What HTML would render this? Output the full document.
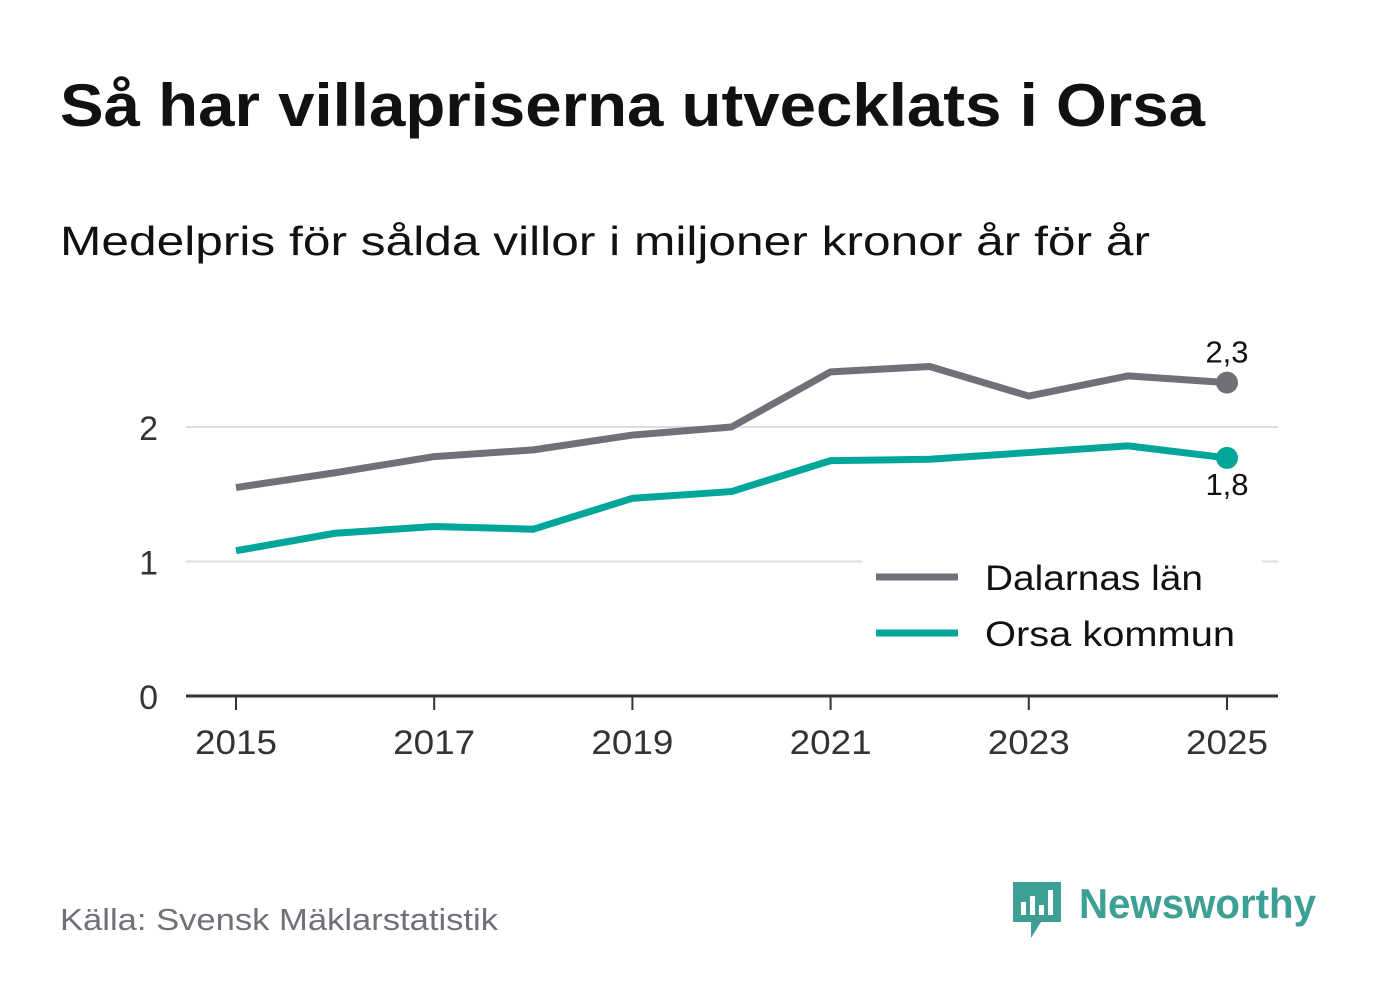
<!DOCTYPE html>
<html><head><meta charset="utf-8">
<style>
body{margin:0;background:#fff;font-family:"Liberation Sans","DejaVu Sans",sans-serif;}
svg text{font-family:"Liberation Sans","DejaVu Sans",sans-serif;}
</style></head>
<body>
<svg width="1382" height="999" viewBox="0 0 1382 999">
<rect width="1382" height="999" fill="#fff"/>
<text x="60" y="126" font-size="60" font-weight="bold" fill="#111" textLength="1145" lengthAdjust="spacingAndGlyphs">Så har villapriserna utvecklats i Orsa</text>
<text x="60" y="255" font-size="41" fill="#111" textLength="1090" lengthAdjust="spacingAndGlyphs">Medelpris för sålda villor i miljoner kronor år för år</text>
<g id="grid"></g>
<g id="lines"></g>
<g>
<rect x="862" y="548" width="400" height="120" fill="#fff"/>
<line x1="876" y1="577" x2="958" y2="577" stroke="#717078" stroke-width="7"/>
<text x="985" y="590" font-size="35" fill="#111" textLength="218" lengthAdjust="spacingAndGlyphs">Dalarnas län</text>
<line x1="876" y1="633" x2="958" y2="633" stroke="#00a699" stroke-width="7"/>
<text x="985" y="646" font-size="35" fill="#111" textLength="250" lengthAdjust="spacingAndGlyphs">Orsa kommun</text>
</g>
<text x="60" y="930" font-size="31" fill="#717078" textLength="438" lengthAdjust="spacingAndGlyphs">Källa: Svensk Mäklarstatistik</text>
<g>
<path d="M1013 882 h48 v40 h-20 l-10 16 v-16 h-18 z" fill="#3e9f94"/>
<rect x="1021" y="902" width="5" height="13" fill="#fff"/><rect x="1030" y="896" width="5" height="19" fill="#fff"/><rect x="1039" y="905" width="5" height="10" fill="#fff"/><rect x="1048" y="890" width="5" height="25" fill="#fff"/>
<text x="1079" y="918" font-size="42" font-weight="bold" fill="#3e9f94" textLength="237" lengthAdjust="spacingAndGlyphs">Newsworthy</text>
</g>
</svg>
<script>
const years=[2015,2016,2017,2018,2019,2020,2021,2022,2023,2024,2025];
const dalarnas=[1.55,1.66,1.78,1.83,1.94,2.0,2.41,2.45,2.23,2.38,2.33];
const orsa=[1.08,1.21,1.26,1.24,1.47,1.52,1.75,1.76,1.81,1.86,1.77];
const yTicks=[0,1,2];
const xTickLabels=[2015,2017,2019,2021,2023,2025];
const NS="http://www.w3.org/2000/svg";
const x=v=>236+(v-2015)*99.1;
const y=v=>696-v*134.5;
function mk(t,a,p){const e=document.createElementNS(NS,t);for(const k in a)e.setAttribute(k,a[k]);p.appendChild(e);return e;}
const grid=document.getElementById('grid'),lines=document.getElementById('lines');
yTicks.forEach(t=>{
 const l=mk('line',{x1:186,x2:1278,y1:y(t),y2:y(t),stroke:t===0?'#333':'#ddd','stroke-width':t===0?3:2},grid);
 
 
 const tx=mk('text',{x:158,y:y(t)+13,'font-size':34,fill:'#333','text-anchor':'end'},grid);tx.textContent=t;
 
 
});
xTickLabels.forEach(t=>{
 const l=mk('line',{x1:x(t),x2:x(t),y1:696,y2:710,stroke:'#333','stroke-width':2},grid);
 
 
 const tx=mk('text',{x:x(t),y:754,'font-size':34,fill:'#333','text-anchor':'middle',textLength:82,lengthAdjust:'spacingAndGlyphs'},grid);tx.textContent=t;
 
 
});
function series(vals,color,name,labelDy){
 const pts=vals.map((v,i)=>x(years[i])+','+y(v)).join(' ');
 const p=mk('polyline',{points:pts,fill:'none',stroke:color,'stroke-width':7,'stroke-linejoin':'round'},lines);
 
 
 const n=vals.length-1;
 const c=mk('circle',{cx:x(years[n]),cy:y(vals[n]),r:11,fill:color},lines);
 
 
 const t=mk('text',{x:x(years[n]),y:y(vals[n])+labelDy,'font-size':31,fill:'#111','text-anchor':'middle'},lines);
 t.textContent=vals[n].toFixed(1).replace('.',',');
 
 
}
series(dalarnas,'#717078','dalarnas',-20);
series(orsa,'#00a699','orsa',37);
</script>
</body></html>
